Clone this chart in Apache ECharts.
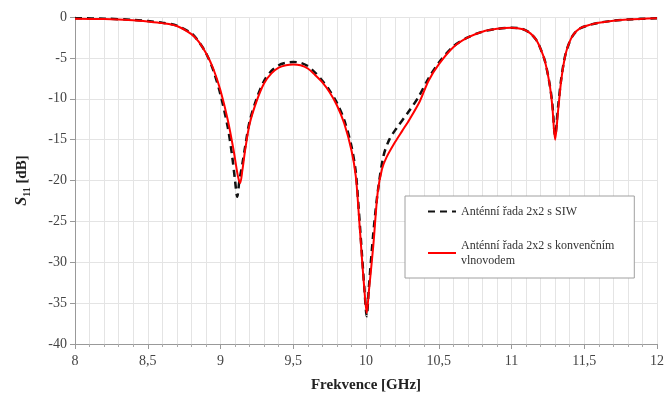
<!DOCTYPE html>
<html>
<head>
<meta charset="utf-8">
<script src="https://cdn.jsdelivr.net/npm/echarts@6/dist/echarts.min.js"></script>
<style>
  html, body { margin: 0; padding: 0; background: #fff; }
  #container { width: 671px; height: 407px; }
</style>
</head>
<body>
<div id="container"></div>
<script>
var dom = document.getElementById("container");
var myChart = echarts.init(dom);

// Antenna with conventional waveguide (red)
var freqRed = [8.0, 8.2, 8.4, 8.5, 8.6, 8.7, 8.8, 8.85, 8.9, 8.95, 9.0, 9.05, 9.09, 9.12, 9.135, 9.15, 9.17, 9.2, 9.25, 9.3, 9.35, 9.4, 9.45, 9.5, 9.55, 9.6, 9.65, 9.7, 9.75, 9.8, 9.85, 9.9, 9.93, 9.95, 9.97, 9.99, 10.005, 10.02, 10.05, 10.08, 10.11, 10.14, 10.2, 10.25, 10.3, 10.37, 10.43, 10.5, 10.6, 10.7, 10.8, 10.9, 11.0, 11.08, 11.13, 11.17, 11.2, 11.23, 11.26, 11.28, 11.3, 11.32, 11.34, 11.36, 11.38, 11.42, 11.47, 11.55, 11.6, 11.7, 11.8, 12.0];
var s11Red = [-0.2, -0.25, -0.4, -0.55, -0.75, -1.1, -2.1, -3.0, -4.4, -6.3, -9.0, -12.6, -16.3, -19.5, -20.3, -18.8, -16.2, -13.1, -10.2, -8.1, -6.9, -6.2, -5.9, -5.8, -5.9, -6.3, -7.1, -8.0, -9.2, -10.8, -13.0, -16.3, -19.5, -24.0, -29.0, -33.6, -36.2, -33.5, -28.0, -21.5, -18.6, -17.2, -15.3, -13.9, -12.5, -10.3, -7.8, -5.8, -3.7, -2.5, -1.8, -1.45, -1.3, -1.5, -2.0, -2.8, -3.9, -5.4, -8.0, -10.8, -15.0, -11.5, -8.0, -5.6, -4.0, -2.3, -1.4, -0.9, -0.7, -0.45, -0.3, -0.15];

// Antenna with SIW (black dashed)
var freqBlack = [8.0, 8.2, 8.4, 8.5, 8.6, 8.7, 8.8, 8.85, 8.9, 8.95, 9.0, 9.05, 9.08, 9.1, 9.115, 9.13, 9.15, 9.17, 9.2, 9.25, 9.3, 9.35, 9.4, 9.45, 9.5, 9.55, 9.6, 9.65, 9.7, 9.75, 9.8, 9.85, 9.9, 9.93, 9.95, 9.97, 9.99, 10.005, 10.02, 10.05, 10.08, 10.12, 10.16, 10.21, 10.3, 10.36, 10.43, 10.5, 10.6, 10.7, 10.8, 10.9, 11.0, 11.08, 11.13, 11.17, 11.2, 11.23, 11.26, 11.28, 11.3, 11.32, 11.34, 11.36, 11.38, 11.42, 11.47, 11.55, 11.6, 11.7, 11.8, 12.0];
var s11Black = [-0.15, -0.2, -0.35, -0.5, -0.7, -1.05, -2.0, -3.0, -4.4, -6.5, -9.5, -13.5, -17.0, -20.0, -22.0, -20.0, -18.0, -15.8, -12.8, -9.9, -7.8, -6.6, -5.9, -5.6, -5.5, -5.6, -6.0, -6.8, -7.8, -9.0, -10.5, -12.6, -15.8, -19.0, -23.5, -28.5, -33.5, -36.6, -33.0, -26.5, -21.5, -17.0, -15.0, -13.6, -11.4, -9.8, -7.5, -5.6, -3.6, -2.5, -1.8, -1.45, -1.3, -1.5, -2.0, -2.8, -3.9, -5.4, -8.0, -10.5, -14.5, -11.0, -7.8, -5.5, -4.0, -2.3, -1.4, -0.9, -0.7, -0.45, -0.3, -0.15];

var yTicks = [0, -5, -10, -15, -20, -25, -30, -35, -40];

function pairs(xs, ys) {
    return xs.map(function (x, i) {
        return [x, ys[i]];
    });
}

var serif = "Liberation Serif";
var option = {
    animation: false,
    backgroundColor: "#ffffff",
    textStyle: { fontFamily: serif },
    grid: {
        left: 75,
        right: 14,
        top: 17,
        bottom: 63,
    },
    legend: {
        left: 405,
        top: 196,
        width: 230,
        orient: "vertical",
        backgroundColor: "#ffffff",
        borderColor: "#a0a0a0",
        borderWidth: 1,
        padding: [8, 20, 10, 22],
        itemGap: 19,
        itemWidth: 28,
        itemHeight: 10,
        itemStyle: { opacity: 0 },
        textStyle: {
            fontFamily: serif,
            fontSize: 12,
            color: "#333333",
            lineHeight: 15,
        },
        data: ["Anténní řada 2x2 s SIW", "Anténní řada 2x2 s konvenčním\nvlnovodem"],
    },
    xAxis: {
        type: "value",
        min: 8,
        max: 12,
        interval: 0.5,
        name: "Frekvence [GHz]",
        nameLocation: "middle",
        nameGap: 34,
        nameTextStyle: {
            fontFamily: serif,
            fontSize: 15,
            fontWeight: "bold",
            color: "#222222",
        },
        axisLine: { show: true, onZero: false, lineStyle: { color: "#999999" } },
        axisTick: { show: true, length: 5, lineStyle: { color: "#999999" } },
        minorTick: { show: true, splitNumber: 5, length: 3, lineStyle: { color: "#aaaaaa" } },
        axisLabel: {
            fontFamily: serif,
            fontSize: 14,
            color: "#444444",
            margin: 10,
            formatter: function (v) {
                return String(v).replace(".", ",");
            },
        },
        splitLine: { show: true, lineStyle: { color: "#e4e4e4", width: 1 } },
        minorSplitLine: { show: true, lineStyle: { color: "#e4e4e4", width: 1 } },
    },
    yAxis: {
        type: "value",
        min: -40,
        max: 0,
        interval: 5,
        name: "{s|S}{sub|11}{n| [dB]}",
        nameLocation: "middle",
        nameGap: 43,
        nameRotate: 90,
        nameTextStyle: {
            fontFamily: serif,
            fontWeight: "bold",
            color: "#222222",
            rich: {
                s: { fontFamily: serif, fontSize: 16, fontWeight: "bold", fontStyle: "italic", color: "#222222", lineHeight: 20 },
                sub: { fontFamily: serif, fontSize: 10, fontWeight: "bold", color: "#222222", verticalAlign: "bottom", lineHeight: 14, padding: [8, 0, 0, 0] },
                n: { fontFamily: serif, fontSize: 15, fontWeight: "bold", color: "#222222", lineHeight: 20 },
            },
        },
        axisLine: { show: true, lineStyle: { color: "#999999" } },
        axisTick: { show: true, length: 5, lineStyle: { color: "#999999" } },
        axisLabel: {
            fontFamily: serif,
            fontSize: 14,
            color: "#444444",
            margin: 8,
            formatter: function (v) {
                return yTicks.indexOf(v) >= 0 ? String(v) : "";
            },
        },
        splitLine: { show: true, lineStyle: { color: "#e4e4e4", width: 1 } },
    },
    series: [
        {
            name: "Anténní řada 2x2 s SIW",
            type: "line",
            data: pairs(freqBlack, s11Black),
            smooth: 0.3,
            symbol: "none",
            lineStyle: { color: "#111111", width: 2.5, type: [7, 5] },
            itemStyle: { color: "#111111" },
            z: 2,
        },
        {
            name: "Anténní řada 2x2 s konvenčním\nvlnovodem",
            type: "line",
            data: pairs(freqRed, s11Red),
            smooth: 0.3,
            symbol: "none",
            lineStyle: { color: "#ff0000", width: 2 },
            itemStyle: { color: "#ff0000" },
            z: 3,
        },
    ],
};

if (option && typeof option === "object") {
    myChart.setOption(option);
}
</script>
</body>
</html>
